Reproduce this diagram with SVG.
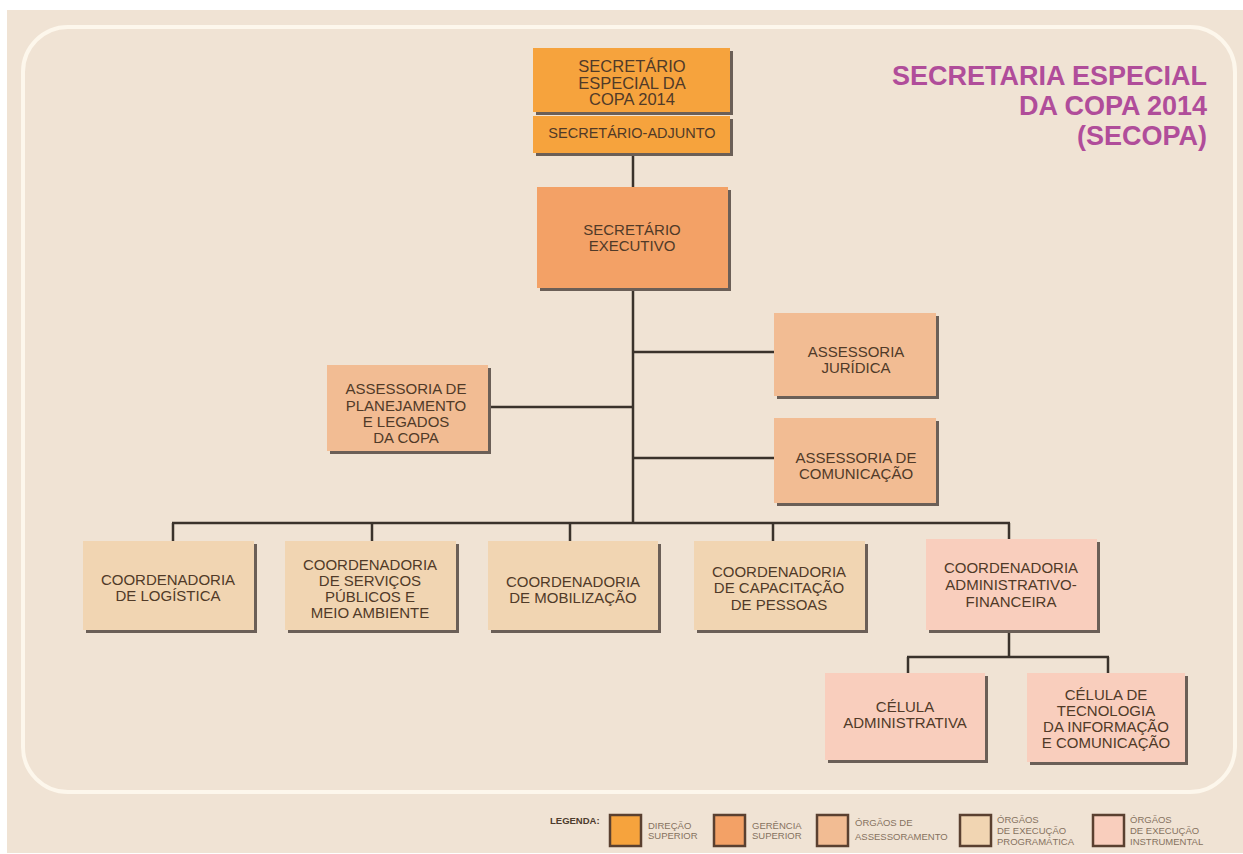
<svg xmlns="http://www.w3.org/2000/svg" width="1243" height="854" viewBox="0 0 1243 854">
<style>
.sh{fill:#6b5f57}
.ds{fill:#f6a33d}
.gs{fill:#f3a166}
.as{fill:#f2bc93}
.ep{fill:#f1d5b2}
.ei{fill:#f9cebd}
.t{font-family:"Liberation Sans",Arial,sans-serif;font-size:15px;fill:#503a28;text-anchor:middle}
.tt{font-family:"Liberation Sans",Arial,sans-serif;font-size:27px;font-weight:bold;fill:#b04d9a;text-anchor:end}
.lg{font-family:"Liberation Sans",Arial,sans-serif;font-size:9.5px;fill:#86725f}
.lgb{font-family:"Liberation Sans",Arial,sans-serif;font-size:9.5px;font-weight:bold;fill:#4d3c2d}
.sq{stroke:#5a4030;stroke-width:2.5}
#connectors line{stroke:#3a322b;stroke-width:2.5}
</style>
<rect x="0" y="0" width="1243" height="854" fill="#ffffff"/>
<rect x="7" y="10" width="1236" height="843" fill="#f0e3d4"/>
<rect x="23" y="27" width="1212" height="765" rx="45" ry="45" fill="none" stroke="#fdf7ec" stroke-width="4"/>

<g id="title">
<text class="tt"><tspan x="1207" y="85">SECRETARIA ESPECIAL</tspan><tspan x="1207" y="115">DA COPA 2014</tspan><tspan x="1207" y="145">(SECOPA)</tspan></text>
</g>

<g id="connectors">
<line x1="633" y1="154" x2="633" y2="187"/>
<line x1="633" y1="289" x2="633" y2="524"/>
<line x1="633" y1="352" x2="774" y2="352"/>
<line x1="491" y1="407" x2="633" y2="407"/>
<line x1="633" y1="458" x2="774" y2="458"/>
<line x1="172" y1="523" x2="1010" y2="523"/>
<line x1="173" y1="523" x2="173" y2="541"/>
<line x1="372" y1="523" x2="372" y2="541"/>
<line x1="570" y1="523" x2="570" y2="541"/>
<line x1="773" y1="523" x2="773" y2="541"/>
<line x1="1009" y1="523" x2="1009" y2="539"/>
<line x1="1009" y1="633" x2="1009" y2="657"/>
<line x1="907" y1="657" x2="1109" y2="657"/>
<line x1="908" y1="657" x2="908" y2="673"/>
<line x1="1108" y1="657" x2="1108" y2="673"/>
</g>

<g id="n-secretario-especial">
<rect class="sh" x="536" y="51" width="197" height="64"/>
<rect class="ds" x="533" y="48" width="197" height="64"/>
<text class="t" style="font-size:16.5px"><tspan x="632" y="72">SECRETÁRIO</tspan><tspan x="632" y="88.5">ESPECIAL DA</tspan><tspan x="632" y="105">COPA 2014</tspan></text>
</g>
<g id="n-secretario-adjunto">
<rect class="sh" x="536" y="119" width="197" height="37"/>
<rect class="ds" x="533" y="116" width="197" height="37"/>
<text class="t" style="font-size:14.5px" x="632" y="138">SECRETÁRIO-ADJUNTO</text>
</g>
<g id="n-secretario-executivo">
<rect class="sh" x="540" y="190" width="191" height="101"/>
<rect class="gs" x="537" y="187" width="191" height="101"/>
<text class="t"><tspan x="632" y="235">SECRETÁRIO</tspan><tspan x="632" y="251">EXECUTIVO</tspan></text>
</g>
<g id="n-assessoria-juridica">
<rect class="sh" x="777" y="316" width="162" height="83"/>
<rect class="as" x="774" y="313" width="162" height="83"/>
<text class="t"><tspan x="856" y="357">ASSESSORIA</tspan><tspan x="856" y="373">JURÍDICA</tspan></text>
</g>
<g id="n-assessoria-planejamento">
<rect class="sh" x="330" y="368" width="161" height="86"/>
<rect class="as" x="327" y="365" width="161" height="86"/>
<text class="t"><tspan x="406" y="394">ASSESSORIA DE</tspan><tspan x="406" y="411">PLANEJAMENTO</tspan><tspan x="406" y="427">E LEGADOS</tspan><tspan x="406" y="443">DA COPA</tspan></text>
</g>
<g id="n-assessoria-comunicacao">
<rect class="sh" x="777" y="421" width="162" height="85"/>
<rect class="as" x="774" y="418" width="162" height="85"/>
<text class="t"><tspan x="856" y="463">ASSESSORIA DE</tspan><tspan x="856" y="479">COMUNICAÇÃO</tspan></text>
</g>
<g id="n-coord-logistica">
<rect class="sh" x="86" y="544" width="171" height="89"/>
<rect class="ep" x="83" y="541" width="171" height="89"/>
<text class="t"><tspan x="168" y="585">COORDENADORIA</tspan><tspan x="168" y="601">DE LOGÍSTICA</tspan></text>
</g>
<g id="n-coord-servicos">
<rect class="sh" x="288" y="544" width="171" height="89"/>
<rect class="ep" x="285" y="541" width="171" height="89"/>
<text class="t"><tspan x="370" y="570">COORDENADORIA</tspan><tspan x="370" y="586">DE SERVIÇOS</tspan><tspan x="370" y="602">PÚBLICOS E</tspan><tspan x="370" y="618">MEIO AMBIENTE</tspan></text>
</g>
<g id="n-coord-mobilizacao">
<rect class="sh" x="491" y="544" width="170" height="89"/>
<rect class="ep" x="488" y="541" width="170" height="89"/>
<text class="t"><tspan x="573" y="587">COORDENADORIA</tspan><tspan x="573" y="603">DE MOBILIZAÇÃO</tspan></text>
</g>
<g id="n-coord-capacitacao">
<rect class="sh" x="697" y="544" width="171" height="89"/>
<rect class="ep" x="694" y="541" width="171" height="89"/>
<text class="t"><tspan x="779" y="577">COORDENADORIA</tspan><tspan x="779" y="593">DE CAPACITAÇÃO</tspan><tspan x="779" y="610">DE PESSOAS</tspan></text>
</g>
<g id="n-coord-adm-fin">
<rect class="sh" x="929" y="542" width="171" height="91"/>
<rect class="ei" x="926" y="539" width="171" height="91"/>
<text class="t"><tspan x="1011" y="573">COORDENADORIA</tspan><tspan x="1011" y="590">ADMINISTRATIVO-</tspan><tspan x="1011" y="607">FINANCEIRA</tspan></text>
</g>
<g id="n-celula-adm">
<rect class="sh" x="828" y="676" width="160" height="87"/>
<rect class="ei" x="825" y="673" width="160" height="87"/>
<text class="t"><tspan x="905" y="712">CÉLULA</tspan><tspan x="905" y="728">ADMINISTRATIVA</tspan></text>
</g>
<g id="n-celula-ti">
<rect class="sh" x="1030" y="676" width="158" height="89"/>
<rect class="ei" x="1027" y="673" width="158" height="89"/>
<text class="t"><tspan x="1106" y="700">CÉLULA DE</tspan><tspan x="1106" y="716">TECNOLOGIA</tspan><tspan x="1106" y="732">DA INFORMAÇÃO</tspan><tspan x="1106" y="748">E COMUNICAÇÃO</tspan></text>
</g>

<g id="legend">
<text class="lgb" x="550" y="824">LEGENDA:</text>
<rect class="ds sq" x="610" y="815" width="31" height="31"/>
<text class="lg"><tspan x="648" y="829">DIREÇÃO</tspan><tspan x="648" y="839">SUPERIOR</tspan></text>
<rect class="gs sq" x="714" y="815" width="31" height="31"/>
<text class="lg"><tspan x="752" y="829">GERÊNCIA</tspan><tspan x="752" y="839">SUPERIOR</tspan></text>
<rect class="as sq" x="817" y="815" width="31" height="31"/>
<text class="lg"><tspan x="855" y="826">ÓRGÃOS DE</tspan><tspan x="855" y="840">ASSESSORAMENTO</tspan></text>
<rect class="ep sq" x="960" y="815" width="31" height="31"/>
<text class="lg"><tspan x="997" y="823">ÓRGÃOS</tspan><tspan x="997" y="834">DE EXECUÇÃO</tspan><tspan x="997" y="845">PROGRAMÁTICA</tspan></text>
<rect class="ei sq" x="1093" y="815" width="31" height="31"/>
<text class="lg"><tspan x="1130" y="823">ÓRGÃOS</tspan><tspan x="1130" y="834">DE EXECUÇÃO</tspan><tspan x="1130" y="845">INSTRUMENTAL</tspan></text>
</g>
</svg>
